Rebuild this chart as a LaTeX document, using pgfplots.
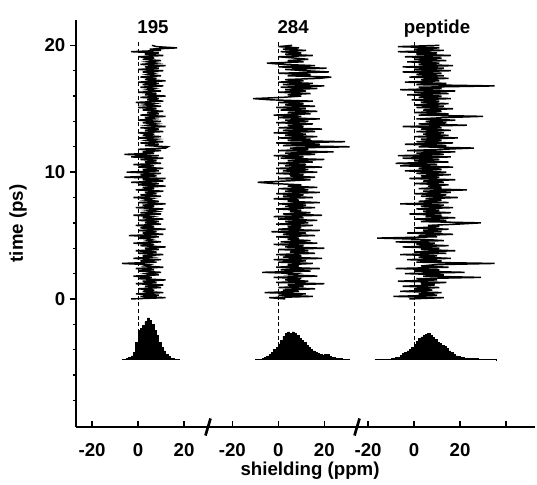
\documentclass[border=0pt]{standalone}
\usepackage{fontspec}
\setmainfont{Liberation Sans}
\usepackage{pgfplots}
\pgfplotsset{compat=1.18}
\begin{document}
\begin{tikzpicture}
\begin{axis}[
  scale only axis, width=344.25pt, height=305.25pt,
  xmin=-27, xmax=172.6, ymin=-10.1, ymax=22,
  axis x line*=bottom, axis y line*=left,
  axis line style={line width=1pt},
  clip=false,
  every tick/.style={line width=1pt, black},
  tick align=outside, major tick length=4.5pt, minor tick length=2.5pt,
  major x tick style={yshift=4.5pt},
  xtick={-20,0,20,41,61,81,100,120,140,160},
  xticklabels={-20,0,20,-20,0,20,-20,0,20,{}},
  xticklabel style={yshift=-4pt},
  ytick={0,10,20},
  minor ytick={-8,-6,-4,-2,2,4,6,8,12,14,16,18},
  /pgf/number format/assume math mode=true,
  tick label style={font=\fontsize{14}{16}\selectfont\bfseries},
  label style={font=\fontsize{14}{16}\selectfont\bfseries},
  xlabel={shielding (ppm)},
  ylabel={time (ps)},
  xlabel style={at={(axis description cs:0.5,0)}, anchor=base, xshift=3.4pt, yshift=-36.5pt},
  ylabel style={at={(axis description cs:-0.1264,0.5)}, anchor=center},
]
% dashed reference lines at zero shielding
\addplot[dashed, line width=0.8pt, dash pattern=on 3pt off 2pt] coordinates {(0,-4.8) (0,20.3)};
\addplot[dashed, line width=0.8pt, dash pattern=on 3pt off 2pt] coordinates {(61,-4.8) (61,20.3)};
\addplot[dashed, line width=0.8pt, dash pattern=on 3pt off 2pt] coordinates {(120,-4.8) (120,20.3)};

% trace 195
\addplot[black, line width=1.1pt] table[header=false, row sep=\\, x expr=\thisrowno{0}, y expr=\coordindex/10] {
-3\\12\\1\\9\\-1\\11\\2\\7\\0\\10\\
3\\11\\-1\\8\\2\\12\\0\\6\\-2\\9\\
4\\10\\0\\7\\-1\\11\\3\\5\\-7\\8\\
1\\10\\-2\\6\\2\\11\\0\\8\\-1\\9\\
3\\12\\1\\7\\-2\\10\\4\\6\\0\\9\\
-4\\11\\2\\8\\0\\12\\1\\7\\-1\\10\\
3\\9\\0\\11\\2\\6\\-2\\10\\1\\8\\
4\\11\\-1\\7\\2\\12\\0\\9\\3\\6\\
-2\\10\\1\\8\\3\\11\\-1\\7\\2\\12\\
0\\9\\-3\\11\\2\\12\\-6\\8\\1\\10\\
-5\\9\\2\\11\\0\\7\\-2\\10\\3\\8\\
1\\11\\-3\\9\\-6\\7\\2\\10\\0\\12\\
13\\3\\9\\1\\11\\4\\8\\0\\10\\2\\
7\\0\\11\\3\\9\\1\\12\\4\\8\\2\\
10\\0\\7\\3\\12\\1\\9\\4\\11\\2\\
8\\0\\10\\3\\7\\-1\\11\\4\\9\\1\\
12\\3\\8\\0\\10\\4\\7\\1\\11\\2\\
9\\0\\12\\3\\8\\1\\10\\4\\7\\2\\
11\\0\\9\\3\\12\\1\\8\\4\\10\\2\\
7\\0\\11\\3\\9\\-3\\10\\5\\17\\8\\
6\\
};

% trace 284
\addplot[black, line width=1.1pt] table[header=false, row sep=\\, x expr=\thisrowno{0}+61, y expr=\coordindex/10] {
3\\-4\\15\\0\\12\\-6\\9\\2\\16\\0\\
11\\4\\20\\-1\\13\\3\\10\\-2\\17\\5\\
8\\-7\\14\\1\\18\\-1\\9\\4\\15\\0\\
12\\-2\\19\\2\\10\\-1\\16\\5\\13\\0\\
20\\3\\11\\-2\\17\\1\\14\\4\\9\\-1\\
16\\2\\12\\-3\\18\\0\\10\\4\\15\\-1\\
13\\3\\17\\0\\11\\-2\\19\\2\\14\\5\\
10\\-1\\16\\3\\12\\0\\18\\4\\9\\-2\\
15\\2\\11\\-1\\18\\3\\13\\0\\17\\4\\
10\\-2\\-9\\3\\14\\0\\16\\5\\11\\-1\\
17\\2\\13\\-1\\19\\3\\12\\0\\15\\4\\
20\\1\\11\\-2\\16\\3\\24\\0\\13\\5\\
31\\2\\18\\-1\\29\\4\\14\\0\\17\\3\\
12\\-2\\16\\2\\19\\0\\11\\4\\15\\-1\\
13\\3\\18\\0\\10\\-2\\14\\4\\17\\1\\
12\\-1\\16\\3\\11\\0\\15\\-3\\-11\\2\\
10\\4\\14\\0\\12\\3\\17\\1\\20\\2\\
15\\0\\11\\3\\18\\23\\4\\14\\0\\22\\
12\\3\\21\\0\\16\\2\\-5\\11\\4\\13\\
7\\0\\15\\3\\10\\1\\12\\2\\9\\0\\
6\\
};

% trace peptide
\addplot[black, line width=1.1pt] table[header=false, row sep=\\, x expr=\thisrowno{0}+120, y expr=\coordindex/10] {
-2\\13\\-9\\10\\2\\12\\-6\\8\\0\\11\\
-5\\9\\3\\14\\-7\\10\\1\\29\\4\\13\\
-4\\22\\0\\11\\-8\\15\\3\\9\\35\\1\\
12\\-3\\16\\2\\10\\-6\\14\\0\\18\\3\\
11\\-5\\15\\1\\9\\-8\\13\\4\\-16\\10\\
2\\17\\-3\\12\\4\\15\\0\\11\\6\\19\\
29\\3\\14\\0\\18\\5\\12\\-2\\16\\4\\
11\\1\\17\\3\\13\\-6\\15\\2\\12\\5\\
19\\3\\14\\0\\16\\4\\23\\2\\12\\6\\
15\\0\\13\\4\\18\\-2\\11\\3\\16\\1\\
14\\-4\\12\\2\\17\\-6\\10\\-8\\15\\0\\
11\\-5\\16\\-7\\13\\1\\18\\-3\\12\\26\\
2\\14\\-4\\17\\1\\12\\3\\19\\0\\15\\
4\\13\\1\\16\\3\\12\\-5\\23\\2\\14\\
5\\18\\1\\13\\30\\2\\15\\0\\12\\4\\
17\\1\\13\\0\\15\\3\\11\\-1\\16\\2\\
12\\-3\\15\\0\\18\\-6\\12\\2\\35\\1\\
14\\-4\\11\\3\\15\\-2\\13\\1\\12\\-5\\
16\\0\\13\\-5\\17\\2\\11\\-3\\14\\0\\
12\\-4\\16\\1\\10\\-7\\13\\0\\11\\-7\\
11\\
};

% histograms
\addplot[const plot, fill=black, draw=black, line width=0.6pt] table[header=false, row sep=\\, x expr=\thisrowno{0}, y index=1] {
-7 -4.80\\ -6 -4.75\\ -5 -4.70\\ -4 -4.65\\ -3 -4.50\\ -2 -4.20\\ -1 -3.40\\ 0 -2.50\\ 1 -2.30\\ 2 -2.10\\ 3 -1.80\\ 4 -1.50\\ 5 -1.70\\ 6 -2.00\\ 7 -2.50\\ 8 -2.90\\ 9 -3.40\\ 10 -3.80\\ 11 -4.10\\ 12 -4.40\\ 13 -4.55\\ 14 -4.70\\ 15 -4.72\\ 16 -4.75\\ 17 -4.75\\ 18 -4.80\\
};
\addplot[const plot, fill=black, draw=black, line width=0.6pt] table[header=false, row sep=\\, x expr=\thisrowno{0}+61, y index=1] {
-10 -4.80\\ -9 -4.77\\ -8 -4.75\\ -7 -4.70\\ -6 -4.60\\ -5 -4.50\\ -4 -4.35\\ -3 -4.20\\ -2 -4.00\\ -1 -3.80\\ 0 -3.55\\ 1 -3.30\\ 2 -2.95\\ 3 -2.75\\ 4 -2.60\\ 5 -2.70\\ 6 -2.60\\ 7 -2.75\\ 8 -2.90\\ 9 -3.10\\ 10 -3.30\\ 11 -3.45\\ 12 -3.65\\ 13 -3.85\\ 14 -3.95\\ 15 -4.10\\ 16 -4.20\\ 17 -4.30\\ 18 -4.35\\ 19 -4.45\\ 20 -4.35\\ 21 -4.40\\ 22 -4.55\\ 23 -4.65\\ 24 -4.65\\ 25 -4.70\\ 26 -4.70\\ 27 -4.72\\ 28 -4.75\\ 29 -4.75\\ 30 -4.77\\ 31 -4.80\\
};
\addplot[const plot, fill=black, draw=black, line width=0.6pt] table[header=false, row sep=\\, x expr=\thisrowno{0}+120, y index=1] {
-17 -4.80\\ -16 -4.78\\ -14 -4.77\\ -12 -4.75\\ -10 -4.72\\ -9 -4.70\\ -8 -4.65\\ -7 -4.60\\ -6 -4.45\\ -5 -4.30\\ -4 -4.20\\ -3 -4.10\\ -2 -3.95\\ -1 -3.80\\ 0 -3.60\\ 1 -3.35\\ 2 -3.10\\ 3 -3.00\\ 4 -2.90\\ 5 -2.80\\ 6 -2.75\\ 7 -2.85\\ 8 -3.05\\ 9 -3.20\\ 10 -3.40\\ 11 -3.50\\ 12 -3.65\\ 13 -3.75\\ 14 -3.90\\ 15 -4.10\\ 16 -4.25\\ 17 -4.40\\ 18 -4.50\\ 19 -4.55\\ 20 -4.60\\ 21 -4.65\\ 22 -4.68\\ 24 -4.70\\ 26 -4.72\\ 28 -4.75\\ 31 -4.76\\ 34 -4.78\\ 36 -4.80\\
};

% panel titles
\node[anchor=base, font=\fontsize{14}{16}\selectfont\bfseries] at (axis cs:6.5,20.95) {195};
\node[anchor=base, font=\fontsize{14}{16}\selectfont\bfseries] at (axis cs:67.4,20.95) {284};
\node[anchor=base, font=\fontsize{14}{16}\selectfont\bfseries] at (axis cs:130,20.95) {peptide};

% axis break marks
\draw[line width=2pt] ([xshift=-1.9pt,yshift=-6.4pt]axis cs:30.4,-10.1) -- ([xshift=1.9pt,yshift=6.4pt]axis cs:30.4,-10.1);
\draw[line width=2pt] ([xshift=-1.9pt,yshift=-6.4pt]axis cs:95.2,-10.1) -- ([xshift=1.9pt,yshift=6.4pt]axis cs:95.2,-10.1);
\end{axis}
\path[use as bounding box] ([xshift=-57pt,yshift=-39pt]current axis.south west) rectangle ([xshift=1.5pt,yshift=15pt]current axis.north east);
\end{tikzpicture}
\end{document}
